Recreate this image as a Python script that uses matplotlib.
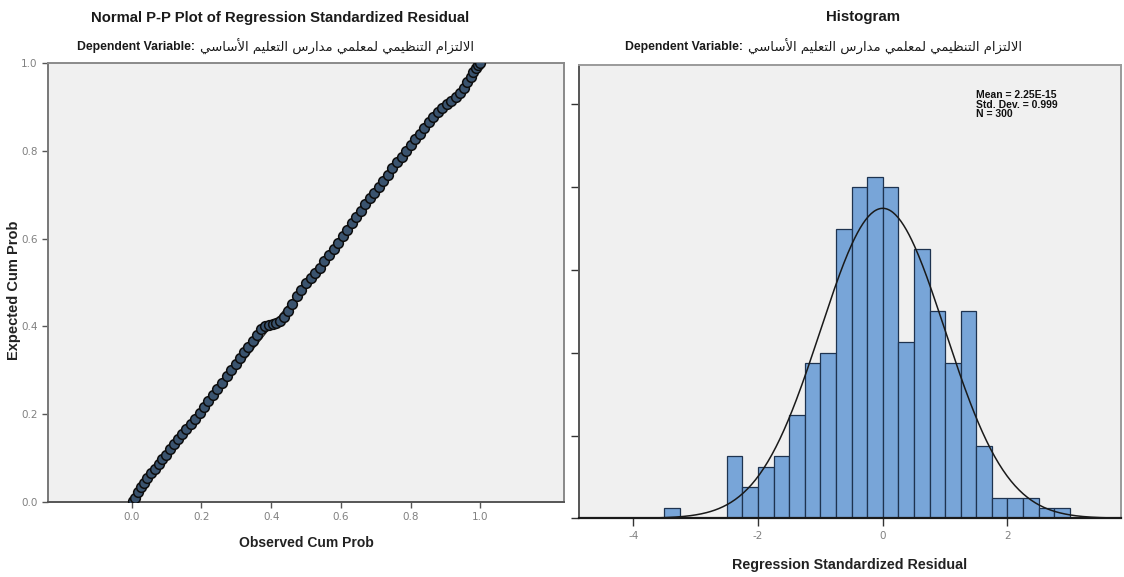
import matplotlib
matplotlib.use("Agg")
import matplotlib.pyplot as plt
import numpy as np

# --- P-P plot data ---
observed_cum = [0.003, 0.010, 0.018, 0.026, 0.034, 0.045, 0.056, 0.066, 0.077, 0.087,
                0.098, 0.110, 0.122, 0.133, 0.145, 0.157, 0.170, 0.183, 0.197, 0.208,
                0.220, 0.232, 0.244, 0.258, 0.272, 0.285, 0.298, 0.311, 0.323, 0.335,
                0.347, 0.359, 0.370, 0.382, 0.393, 0.404, 0.415, 0.426, 0.437, 0.448,
                0.460, 0.474, 0.487, 0.500, 0.513, 0.527, 0.540, 0.553, 0.566, 0.579,
                0.592, 0.605, 0.618, 0.631, 0.644, 0.657, 0.670, 0.683, 0.696, 0.709,
                0.722, 0.735, 0.748, 0.761, 0.774, 0.787, 0.800, 0.813, 0.826, 0.839,
                0.852, 0.865, 0.878, 0.891, 0.904, 0.917, 0.930, 0.942, 0.953, 0.963,
                0.972, 0.980, 0.987, 0.993, 0.998]
expected_cum = [0.002, 0.010, 0.022, 0.034, 0.044, 0.055, 0.066, 0.076, 0.087, 0.097,
                0.108, 0.120, 0.132, 0.143, 0.155, 0.166, 0.178, 0.190, 0.203, 0.216,
                0.230, 0.244, 0.258, 0.272, 0.286, 0.300, 0.314, 0.328, 0.341, 0.354,
                0.367, 0.381, 0.393, 0.400, 0.403, 0.405, 0.407, 0.412, 0.422, 0.436,
                0.452, 0.469, 0.484, 0.499, 0.511, 0.522, 0.534, 0.548, 0.562, 0.576,
                0.591, 0.606, 0.620, 0.635, 0.650, 0.664, 0.678, 0.692, 0.705, 0.718,
                0.732, 0.746, 0.760, 0.774, 0.787, 0.800, 0.813, 0.826, 0.839, 0.852,
                0.865, 0.877, 0.888, 0.898, 0.906, 0.914, 0.922, 0.932, 0.944, 0.956,
                0.968, 0.979, 0.988, 0.995, 1.000]
pp_ticks = [0.0, 0.2, 0.4, 0.6, 0.8, 1.0]

# --- histogram data ---
bin_lefts = [-3.5, -3.25, -3.0, -2.75, -2.5, -2.25, -2.0, -1.75, -1.5, -1.25, -1.0, -0.75, -0.5,
             -0.25, 0.0, 0.25, 0.5, 0.75, 1.0, 1.25, 1.5, 1.75, 2.0, 2.25, 2.5, 2.75]
counts = [1, 0, 0, 0, 6, 3, 5, 6, 10, 15, 16, 28, 32,
          33, 32, 17, 26, 20, 15, 20, 7, 2, 2, 2, 1, 1]
bin_width = 0.25
hist_xticks = [-4, -2, 0, 2]
res_mean = 2.25e-15
res_std = 0.999
n_obs = 300

# --- Arabic shaping (matplotlib has no shaping / bidi) ---
FORMS = {  # iso, fin, ini, med
    "\u0627": ("\uFE8D", "\uFE8E", None, None),
    "\u0623": ("\uFE83", "\uFE84", None, None),
    "\u062F": ("\uFEA9", "\uFEAA", None, None),
    "\u0631": ("\uFEAD", "\uFEAE", None, None),
    "\u0632": ("\uFEAF", "\uFEB0", None, None),
    "\u062A": ("\uFE95", "\uFE96", "\uFE97", "\uFE98"),
    "\u0633": ("\uFEB1", "\uFEB2", "\uFEB3", "\uFEB4"),
    "\u0638": ("\uFEC5", "\uFEC6", "\uFEC7", "\uFEC8"),
    "\u0639": ("\uFEC9", "\uFECA", "\uFECB", "\uFECC"),
    "\u0644": ("\uFEDD", "\uFEDE", "\uFEDF", "\uFEE0"),
    "\u0645": ("\uFEE1", "\uFEE2", "\uFEE3", "\uFEE4"),
    "\u0646": ("\uFEE5", "\uFEE6", "\uFEE7", "\uFEE8"),
    "\u064A": ("\uFEF1", "\uFEF2", "\uFEF3", "\uFEF4"),
}
LAM_ALEF = {"\u0627": ("\uFEFB", "\uFEFC"), "\u0623": ("\uFEF7", "\uFEF8")}


def shape_word(word):
    # merge lam + alef into one unit
    units = []
    i = 0
    while i < len(word):
        if word[i] == "\u0644" and i + 1 < len(word) and word[i + 1] in LAM_ALEF:
            units.append(("LA", word[i + 1]))
            i += 2
        else:
            units.append(("C", word[i]))
            i += 1

    def dual(u):
        return u[0] == "C" and FORMS[u[1]][2] is not None

    out = []
    for k, u in enumerate(units):
        prev_joins = k > 0 and dual(units[k - 1])
        if u[0] == "LA":
            out.append(LAM_ALEF[u[1]][1 if prev_joins else 0])
            continue
        iso, fin, ini, med = FORMS[u[1]]
        next_joins = dual(u) and k + 1 < len(units)
        if prev_joins and next_joins:
            out.append(med)
        elif prev_joins:
            out.append(fin)
        elif next_joins:
            out.append(ini)
        else:
            out.append(iso)
    return "".join(out)


def visual_arabic(text):
    words = [shape_word(w) for w in text.split(" ")]
    return " ".join(w[::-1] for w in words[::-1])


dep_var = "الالتزام التنظيمي لمعلمي مدارس التعليم الأساسي"
subtitle_ar = visual_arabic(dep_var)

BG = "#f0f0f0"
SANS = ["Liberation Sans", "DejaVu Sans"]
W, H = 1124, 577

fig = plt.figure(figsize=(11.24, 5.77), dpi=100)
fig.patch.set_facecolor("white")

# ---------------- P-P plot ----------------
ax1 = fig.add_axes([48 / W, 1 - 502 / H, (564 - 48) / W, (502 - 63) / H])
ax1.set_facecolor(BG)
ax1.plot([0, 1], [0, 1], color="#222222", linewidth=0.8, zorder=2)
ax1.plot(observed_cum, expected_cum, linestyle="none", marker="o", markersize=7,
         markerfacecolor="#3a536e", markeredgecolor="#0d0d0d", markeredgewidth=1.1, zorder=3)
ax1.set_xlim(-0.24, 1.24)
ax1.set_ylim(0, 1.0)
ax1.set_xticks(pp_ticks)
ax1.set_yticks(pp_ticks)
ax1.set_xticklabels([f"{t:.1f}" for t in pp_ticks])
ax1.set_yticklabels([f"{t:.1f}" for t in pp_ticks])
ax1.tick_params(direction="out", length=4, width=1, colors="#555555", labelcolor="#808080",
                labelsize=7.5)
for s in ax1.spines.values():
    s.set_color("#8a8a8a")
    s.set_linewidth(1.4)
ax1.spines["bottom"].set_color("#555555")
ax1.spines["left"].set_color("#777777")
ax1.set_xlabel("Observed Cum Prob", fontsize=10, fontweight="bold", family=SANS,
               color="#222222", labelpad=10)
fig.text(14 / W, 1 - 290 / H, "Expected Cum Prob", rotation=90, ha="center", va="center",
         fontsize=10.5, fontweight="bold", family=SANS, color="#222222")

fig.text(280 / W, 1 - 18 / H, "Normal P-P Plot of Regression Standardized Residual",
         ha="center", va="center", fontsize=10.7, fontweight="bold", family=SANS, color="#1a1a1a")

# ---------------- Histogram ----------------
ax2 = fig.add_axes([579 / W, 1 - 518.3 / H, (1121 - 579) / W, (518.3 - 65) / H])
ax2.set_facecolor(BG)
ax2.bar(bin_lefts, counts, width=bin_width, align="edge", color="#78a5d8",
        edgecolor="#1e3350", linewidth=0.9, zorder=2)
xs = np.linspace(-4.87, 3.82, 400)
curve = n_obs * bin_width * np.exp(-0.5 * ((xs - res_mean) / res_std) ** 2) / (res_std * np.sqrt(2 * np.pi))
ax2.plot(xs, curve, color="#1a1a1a", linewidth=1.1, zorder=3)
ax2.set_xlim(-4.87, 3.82)
ax2.set_ylim(0, 43.8)
ax2.set_xticks(hist_xticks)
ax2.set_xticklabels([str(t) for t in hist_xticks])
ax2.set_yticks([0, 8, 16, 24, 32, 40])
ax2.set_yticklabels([])
ax2.tick_params(direction="out", length=6, width=1, colors="#333333", labelcolor="#808080",
                labelsize=7.5)
for s in ax2.spines.values():
    s.set_color("#9a9a9a")
    s.set_linewidth(1.4)
ax2.spines["bottom"].set_color("#1a1a1a")
ax2.spines["bottom"].set_linewidth(1.6)
ax2.spines["left"].set_color("#555555")
ax2.set_xlabel("Regression Standardized Residual", fontsize=10.3, fontweight="bold",
               family=SANS, color="#222222", labelpad=12)

ax2.text(0.733, 0.945, f"Mean = {res_mean:.2E}\nStd. Dev. = {res_std:.3f}\nN = {n_obs}",
         transform=ax2.transAxes, ha="left", va="top", fontsize=7.5, fontweight="bold",
         family=SANS, color="#111111", linespacing=0.95)

fig.text(863 / W, 1 - 17 / H, "Histogram", ha="center", va="center", fontsize=10.8,
         fontweight="bold", family=SANS, color="#1a1a1a")

# ---------------- subtitles ----------------
for split in (197, 745):
    fig.text((split - 2) / W, 1 - 47 / H, "Dependent Variable:", ha="right", va="center",
             fontsize=8.8, fontweight="bold", family=SANS, color="#1a1a1a")
    fig.text((split + 3) / W, 1 - 47 / H, subtitle_ar, ha="left", va="center",
             fontsize=9.5, family=["DejaVu Sans"], color="#1a1a1a")

fig.savefig("out.png", dpi=100, facecolor=fig.get_facecolor())
